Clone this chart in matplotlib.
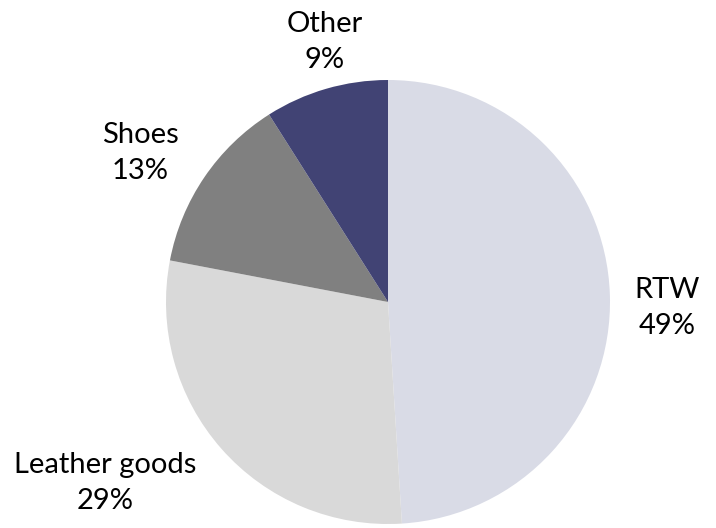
import matplotlib.pyplot as plt

# Sales split by category
categories = ["RTW", "Leather goods", "Shoes", "Other"]
shares = [49, 29, 13, 9]
colors = ["#D9DBE6", "#D9D9D9", "#808080", "#414374"]

plt.rcParams["font.family"] = ["Lato", "DejaVu Sans"]

W, H = 716, 528
fig = plt.figure(figsize=(W / 100, H / 100), dpi=100)
ax = fig.add_axes([0, 0, 1, 1])

ax.pie(shares, colors=colors, startangle=90, counterclock=False,
       center=(388, H - 302), radius=222, frame=True)
ax.set_xlim(0, W)
ax.set_ylim(0, H)
ax.axis("off")

# label centres in pixels from the top-left corner
label_pos = [(667, 308), (105, 483), (140, 153), (325, 42)]
for name, pct, (x, y) in zip(categories, shares, label_pos):
    ax.text(x, H - y, f"{name}\n{pct}%", ha="center", va="center",
            fontsize=21, linespacing=1.45, color="black")

plt.savefig("out.png", dpi=100)
